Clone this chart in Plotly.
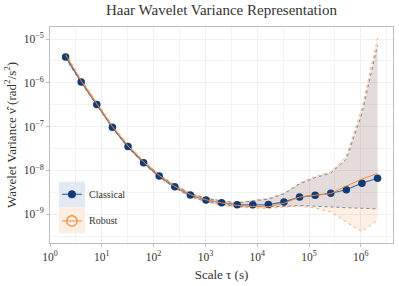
import plotly.graph_objects as go

# ---------------- data ----------------
scales = [2, 4, 8, 16, 32, 64, 128, 256, 512, 1024, 2048, 4096, 8192, 16384,
          32768, 65536, 131072, 262144, 524288, 1048576, 2097152]

classical = [3.9e-6, 1.05e-6, 3.2e-7, 9.6e-8, 3.5e-8, 1.5e-8, 7.4e-9, 4.2e-9,
             2.75e-9, 2.1e-9, 1.82e-9, 1.63e-9, 1.63e-9, 1.65e-9, 1.9e-9,
             2.45e-9, 2.68e-9, 3.0e-9, 3.6e-9, 5.1e-9, 6.6e-9]
classical_lo = [3.6e-6, 9.9e-7, 3.05e-7, 9.2e-8, 3.35e-8, 1.43e-8, 7.0e-9, 3.95e-9,
                2.55e-9, 1.93e-9, 1.66e-9, 1.48e-9, 1.47e-9, 1.47e-9, 1.5e-9,
                1.58e-9, 1.5e-9, 1.44e-9, 1.4e-9, 1.36e-9, 1.32e-9]
classical_hi = [4.2e-6, 1.12e-6, 3.4e-7, 1.0e-7, 3.7e-8, 1.6e-8, 7.9e-9, 4.5e-9,
                2.98e-9, 2.3e-9, 2.0e-9, 1.8e-9, 2.0e-9, 2.2e-9, 2.9e-9,
                4.9e-9, 6.8e-9, 8.7e-9, 1.8e-8, 2.0e-7, 7.2e-6]

robust = [4.4e-6, 1.1e-6, 3.3e-7, 1.0e-7, 3.6e-8, 1.55e-8, 7.6e-9, 4.3e-9,
          2.8e-9, 2.12e-9, 1.8e-9, 1.58e-9, 1.5e-9, 1.47e-9, 1.77e-9,
          2.45e-9, 2.7e-9, 2.93e-9, 4.4e-9, 6.3e-9, 8.5e-9]
robust_lo = [4.0e-6, 1.0e-6, 3.05e-7, 9.2e-8, 3.3e-8, 1.42e-8, 6.9e-9, 3.9e-9,
             2.5e-9, 1.9e-9, 1.6e-9, 1.44e-9, 1.38e-9, 1.36e-9, 1.45e-9,
             1.52e-9, 1.38e-9, 1.13e-9, 6.6e-10, 4.0e-10, 7.3e-10]
robust_hi = [4.8e-6, 1.2e-6, 3.6e-7, 1.08e-7, 3.9e-8, 1.68e-8, 8.2e-9, 4.65e-9,
             3.05e-9, 2.35e-9, 2.02e-9, 1.82e-9, 2.05e-9, 2.3e-9, 3.0e-9,
             5.1e-9, 7.2e-9, 9.2e-9, 2.1e-8, 2.6e-7, 1.05e-5]

x_tickvals = [1, 10, 100, 1000, 1e4, 1e5, 1e6]
x_ticktext = ["10<sup>0</sup>", "10<sup>1</sup>", "10<sup>2</sup>", "10<sup>3</sup>",
              "10<sup>4</sup>", "10<sup>5</sup>", "10<sup>6</sup>"]
y_tickvals = [1e-9, 1e-8, 1e-7, 1e-6, 1e-5]
y_ticktext = ["10<sup>−9</sup>", "10<sup>−8</sup>", "10<sup>−7</sup>",
              "10<sup>−6</sup>", "10<sup>−5</sup>"]
x_minor = [10 ** (k + 0.5) for k in range(0, 7)]
y_minor = [10 ** (k + 0.5) for k in range(-10, -4)]

# ---------------- style ----------------
FONT = "Liberation Serif"
NAVY = "#0f3c78"
BLUE_LINE = "#4a6fa5"
ORANGE = "#f58a3a"
ROB_FILL = "rgba(245,130,40,0.12)"
CLS_FILL = "rgba(40,80,150,0.12)"
ROB_BOUND = "rgba(248,170,110,0.9)"
CLS_BOUND = "rgba(110,125,150,0.9)"

fig = go.Figure()

# robust CI
fig.add_trace(go.Scatter(x=scales, y=robust_lo, mode="lines",
                         line=dict(color=ROB_BOUND, width=1, dash="dot"),
                         showlegend=False, hoverinfo="skip"))
fig.add_trace(go.Scatter(x=scales, y=robust_hi, mode="lines", fill="tonexty",
                         fillcolor=ROB_FILL,
                         line=dict(color=ROB_BOUND, width=1, dash="dot"),
                         showlegend=False, hoverinfo="skip"))
# classical CI
fig.add_trace(go.Scatter(x=scales, y=classical_lo, mode="lines",
                         line=dict(color=CLS_BOUND, width=1, dash="dot"),
                         showlegend=False, hoverinfo="skip"))
fig.add_trace(go.Scatter(x=scales, y=classical_hi, mode="lines", fill="tonexty",
                         fillcolor=CLS_FILL,
                         line=dict(color=CLS_BOUND, width=1, dash="dot"),
                         showlegend=False, hoverinfo="skip"))

# classical estimates
fig.add_trace(go.Scatter(x=scales, y=classical, mode="lines+markers",
                         line=dict(color=BLUE_LINE, width=1.2),
                         marker=dict(color=NAVY, size=7.5, symbol="circle"),
                         name="Classical", showlegend=False))
# robust estimates
fig.add_trace(go.Scatter(x=scales, y=robust, mode="lines+markers",
                         line=dict(color=ORANGE, width=1),
                         marker=dict(color="rgba(0,0,0,0)", size=11, symbol="circle-open",
                                     line=dict(color=ORANGE, width=1.3)),
                         name="Robust", showlegend=False))

# ---------------- manual legend ----------------
shapes = [
    dict(type="rect", xref="paper", yref="paper", x0=0.026, x1=0.102, y0=0.165, y1=0.284,
         fillcolor="#e3e9f2", line=dict(width=0), layer="above"),
    dict(type="rect", xref="paper", yref="paper", x0=0.026, x1=0.102, y0=0.045, y1=0.165,
         fillcolor="#fdeee3", line=dict(width=0), layer="above"),
    dict(type="line", xref="paper", yref="paper", x0=0.035, x1=0.093, y0=0.2255, y1=0.2255,
         line=dict(color=BLUE_LINE, width=1.2), layer="above"),
    dict(type="line", xref="paper", yref="paper", x0=0.035, x1=0.093, y0=0.102, y1=0.102,
         line=dict(color=ORANGE, width=1), layer="above"),
    dict(type="circle", xref="paper", yref="paper", xsizemode="pixel", ysizemode="pixel",
         xanchor=0.064, yanchor=0.2255, x0=-3.8, x1=3.8, y0=-3.8, y1=3.8,
         fillcolor=NAVY, line=dict(color=NAVY, width=0.5), layer="above"),
    dict(type="circle", xref="paper", yref="paper", xsizemode="pixel", ysizemode="pixel",
         xanchor=0.064, yanchor=0.102, x0=-5.2, x1=5.2, y0=-5.2, y1=5.2,
         fillcolor="rgba(0,0,0,0)", line=dict(color=ORANGE, width=1.3), layer="above"),
]
annotations = [
    dict(text="Classical", xref="paper", yref="paper", x=0.107, y=0.2255,
         xanchor="left", yanchor="middle", showarrow=False,
         font=dict(family=FONT, size=10, color="#333333")),
    dict(text="Robust", xref="paper", yref="paper", x=0.107, y=0.102,
         xanchor="left", yanchor="middle", showarrow=False,
         font=dict(family=FONT, size=10, color="#333333")),
]

axis_common = dict(
    showline=True, linecolor="#bdbdbd", linewidth=1, mirror=True,
    showgrid=True, gridcolor="#f0f0f0", gridwidth=1,
    ticks="outside", ticklen=3, tickcolor="#bdbdbd",
    tickfont=dict(family=FONT, size=11.5, color="#333333"),
    zeroline=False, automargin=False,
)

fig.update_layout(
    width=399, height=286,
    margin=dict(l=50, r=6, t=27, b=43),
    paper_bgcolor="white", plot_bgcolor="white",
    title=dict(text="Haar Wavelet Variance Representation", x=0.555, xanchor="center",
               y=0.965, yanchor="middle",
               font=dict(family=FONT, size=15, color="#333333")),
    xaxis=dict(type="log", range=[0, 6.62], tickvals=x_tickvals, ticktext=x_ticktext,
               minor=dict(tickvals=x_minor, showgrid=True, gridcolor="#f3f3f3", ticks=""),
               title=dict(text="Scale τ (s)", font=dict(family=FONT, size=13, color="#333333"),
                          standoff=8),
               **axis_common),
    yaxis=dict(type="log", range=[-9.66, -4.725], tickvals=y_tickvals, ticktext=y_ticktext,
               minor=dict(tickvals=y_minor, showgrid=True, gridcolor="#f3f3f3", ticks=""),
               title=dict(text="Wavelet Variance ν̂ (rad<sup>2</sup>/s<sup>2</sup>)",
                          font=dict(family=FONT, size=13, color="#333333"), standoff=4),
               **axis_common),
    shapes=shapes,
    annotations=annotations,
    showlegend=False,
)

fig.write_html("out.html", config={"displayModeBar": False},
               post_script="document.body.style.margin='0';")
